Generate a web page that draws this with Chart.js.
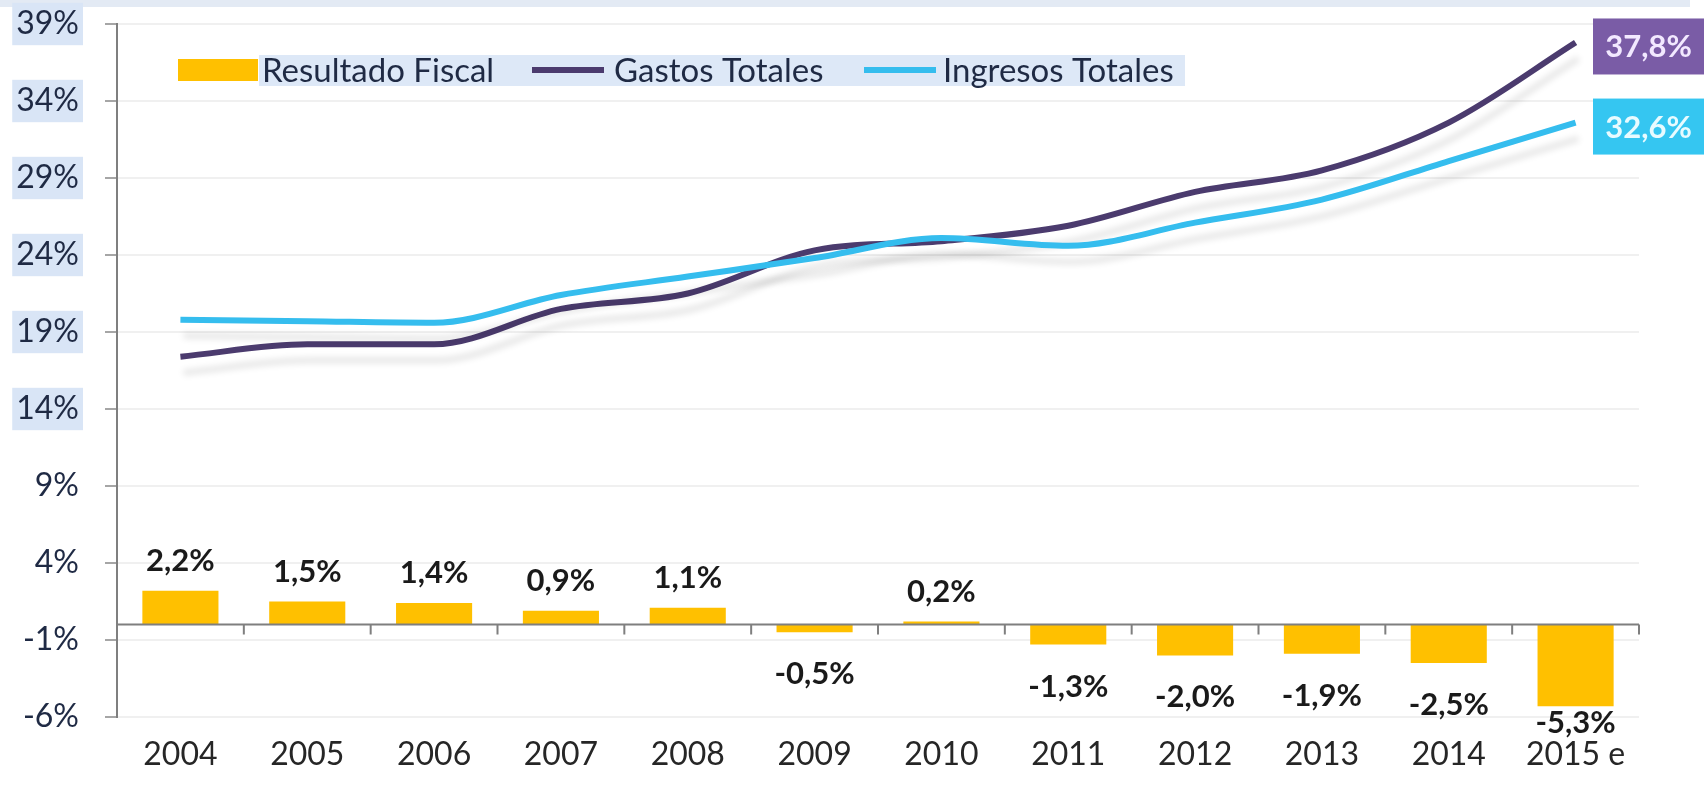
<!DOCTYPE html>
<html>
<head>
<meta charset="utf-8">
<script src="https://cdn.jsdelivr.net/npm/chart.js@4.4.1/dist/chart.umd.min.js"></script>
<style>
  html, body { margin: 0; padding: 0; background: #fff; }
  #wrap { width: 1704px; height: 786px; position: relative; }
</style>
</head>
<body>
<div id="wrap"><canvas id="fiscalChart"></canvas></div>
<script>
// data (% del PIB)
const years = ["2004", "2005", "2006", "2007", "2008", "2009", "2010", "2011", "2012", "2013", "2014", "2015 e"];
const resultadoFiscal = [2.2, 1.5, 1.4, 0.9, 1.1, -0.5, 0.2, -1.3, -2.0, -1.9, -2.5, -5.3];
const gastosTotales = [17.4, 18.2, 18.2, 20.5, 21.5, 24.3, 24.9, 25.9, 28.1, 29.5, 32.6, 37.8];
const ingresosTotales = [19.8, 19.7, 19.6, 21.4, 22.6, 23.8, 25.1, 24.6, 26.1, 27.6, 30.1, 32.6];
const yTicks = [-6, -1, 4, 9, 14, 19, 24, 29, 34, 39];

const FONT = "Lato, 'Liberation Sans', sans-serif";
const fmt = v => v.toFixed(1).replace(".", ",") + "%";

// soft drop shadow under the two lines
const shadowPlugin = {
  id: "lineShadow",
  beforeDatasetDraw(chart, args) {
    if (args.index === 0) return;
    const ctx = chart.ctx;
    ctx.save();
    ctx.shadowColor = "rgba(0,0,0,0.10)";
    ctx.shadowBlur = 6;
    ctx.shadowOffsetX = 3;
    ctx.shadowOffsetY = 16;
  },
  afterDatasetDraw(chart, args) {
    if (args.index === 0) return;
    chart.ctx.restore();
  }
};

// background band, zero line ticks, legend, end labels
const decorPlugin = {
  id: "decor",
  beforeDraw(chart) {
    const ctx = chart.ctx;
    ctx.save();
    ctx.fillStyle = "#e3eaf4";
    ctx.fillRect(0, 0, 1690, 7);
    ctx.restore();
  },
  afterDatasetsDraw(chart) {
    const ctx = chart.ctx;
    const x = chart.scales.x, y = chart.scales.y;
    const y0 = y.getPixelForValue(0);
    ctx.save();

    // zero axis line + category ticks
    ctx.strokeStyle = "#7f7f7f";
    ctx.lineWidth = 2;
    ctx.beginPath();
    ctx.moveTo(chart.chartArea.left, y0);
    ctx.lineTo(chart.chartArea.right, y0);
    for (let i = 1; i <= years.length; i++) {
      const bx = i === years.length
        ? chart.chartArea.right
        : (x.getPixelForValue(i - 1) + x.getPixelForValue(i)) / 2;
      ctx.moveTo(bx, y0);
      ctx.lineTo(bx, y0 + 10);
    }
    ctx.stroke();

    // bar value labels
    const meta = chart.getDatasetMeta(0);
    ctx.font = "bold 31px " + FONT;
    ctx.fillStyle = "#1a1a1a";
    ctx.textAlign = "center";
    ctx.textBaseline = "middle";
    meta.data.forEach((bar, i) => {
      const v = resultadoFiscal[i];
      let ly;
      if (v >= 0) ly = bar.y - 30;
      else ly = Math.min(bar.y + 42, y.bottom + 6);
      ctx.fillText(fmt(v), bar.x, ly);
    });

    // end-of-line labels
    const ends = [
      { ds: 1, bg: "#7a5ca6", fg: "#f2e9ff" },
      { ds: 2, bg: "#35c6f1", fg: "#e8fbff" }
    ];
    ctx.font = "bold 31px " + FONT;
    ctx.textAlign = "center";
    ends.forEach(e => {
      const pts = chart.getDatasetMeta(e.ds).data;
      const p = pts[pts.length - 1];
      const bx = 1593, bw = 111, bh = 56;
      ctx.fillStyle = e.bg;
      ctx.fillRect(bx, p.y - bh / 2 + 4, bw, bh);
      ctx.fillStyle = e.fg;
      const vals = chart.data.datasets[e.ds].data;
      ctx.fillText(fmt(vals[vals.length - 1]), bx + bw / 2, p.y + 5);
    });

    // legend inside the plot
    const ly = 70;
    ctx.fillStyle = "#dde8f7";
    ctx.fillRect(259, ly - 15, 926, 31);
    ctx.font = "33px " + FONT;
    ctx.textAlign = "left";
    ctx.fillStyle = "#ffc000";
    ctx.fillRect(178, ly - 11, 80, 22);
    ctx.fillStyle = "#1f2a44";
    ctx.fillText(chart.data.datasets[0].label, 262, ly + 1);
    const lines = [
      { ds: 1, x1: 532, tx: 614 },
      { ds: 2, x1: 864, tx: 943 }
    ];
    lines.forEach(l => {
      const d = chart.data.datasets[l.ds];
      ctx.strokeStyle = d.borderColor;
      ctx.lineWidth = 6;
      ctx.beginPath();
      ctx.moveTo(l.x1, ly);
      ctx.lineTo(l.x1 + 72, ly);
      ctx.stroke();
      ctx.fillStyle = "#1f2a44";
      ctx.fillText(d.label, l.tx, ly + 1);
    });
    ctx.restore();
  }
};

new Chart(document.getElementById("fiscalChart"), {
  data: {
    labels: years,
    datasets: [
      {
        type: "bar",
        label: "Resultado Fiscal",
        data: resultadoFiscal,
        backgroundColor: "#ffc000",
        barPercentage: 0.6,
        categoryPercentage: 1,
        order: 2
      },
      {
        type: "line",
        label: "Gastos Totales",
        data: gastosTotales,
        borderColor: "#4b3b6e",
        borderWidth: 6,
        pointRadius: 0,
        tension: 0.4,
        cubicInterpolationMode: "monotone",
        order: 1
      },
      {
        type: "line",
        label: "Ingresos Totales",
        data: ingresosTotales,
        borderColor: "#35bdee",
        borderWidth: 6,
        pointRadius: 0,
        tension: 0.4,
        cubicInterpolationMode: "monotone",
        order: 0
      }
    ]
  },
  options: {
    responsive: true,
    maintainAspectRatio: false,
    animation: false,
    layout: { padding: { top: 24, right: 65, bottom: 0, left: 0 } },
    plugins: {
      legend: { display: false },
      tooltip: { enabled: false }
    },
    scales: {
      x: {
        offset: true,
        afterFit: scale => { scale.height = 69; },
        grid: { display: false, drawTicks: false },
        border: { display: false },
        ticks: {
          color: "#262626",
          font: { family: FONT, size: 32 },
          padding: 18,
          maxRotation: 0
        }
      },
      y: {
        min: -6,
        max: 39,
        afterBuildTicks: scale => { scale.ticks = yTicks.map(v => ({ value: v })); },
        afterFit: scale => {
          scale.width = 117;
          scale.paddingTop = 0;
          scale.paddingBottom = 0;
        },
        grid: {
          color: "#f0f0f0",
          lineWidth: 2,
          tickLength: 12,
          tickColor: "#a6a6a6"
        },
        border: { color: "#7f7f7f", width: 2 },
        ticks: {
          color: "#1f2a44",
          font: { family: FONT, size: 32 },
          padding: 26,
          callback: v => v + "%",
          showLabelBackdrop: true,
          backdropPadding: { top: 2, bottom: 2, left: 4, right: 4 },
          backdropColor: c => (c.tick && c.tick.value >= 14 ? "#d9e5f6" : "rgba(0,0,0,0)")
        }
      }
    }
  },
  plugins: [shadowPlugin, decorPlugin]
});
</script>
</body>
</html>
